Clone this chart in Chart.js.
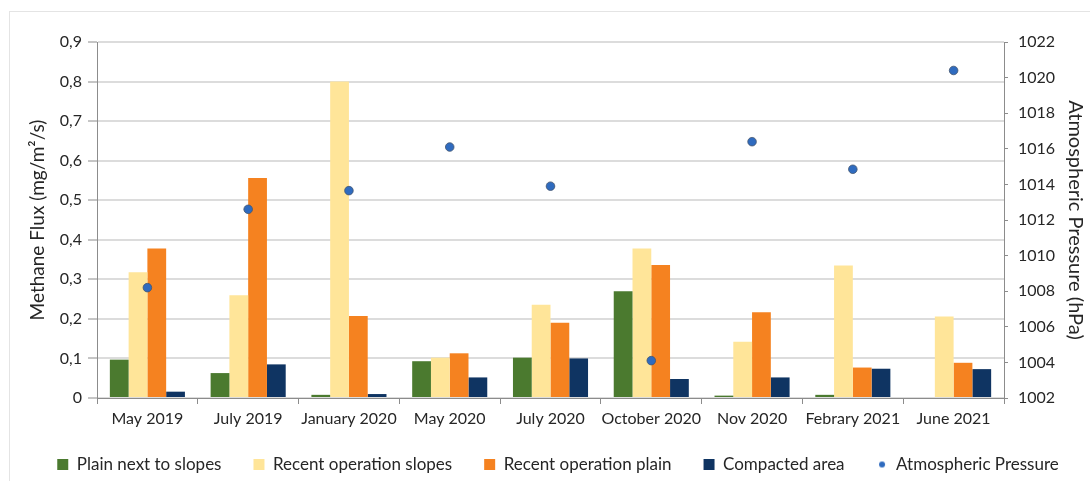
<!DOCTYPE html>
<html>
<head>
<meta charset="utf-8">
<script src="https://cdn.jsdelivr.net/npm/chart.js@4.4.1/dist/chart.umd.min.js"></script>
<style>
  html, body { margin: 0; padding: 0; background: #ffffff; }
  #wrap { position: relative; width: 1090px; height: 481px; overflow: hidden; }
  #frame { position: absolute; left: 9px; top: 11px; width: 2000px; height: 2000px;
           border-left: 1px solid #e4e4e4; border-top: 1px solid #e4e4e4; }
  canvas { position: absolute; left: 0; top: 0; }
</style>
</head>
<body>
<div id="wrap">
  <div id="frame"></div>
  <canvas id="c" width="1090" height="481"></canvas>
</div>
<script>
const categories = ['May 2019', 'July 2019', 'January 2020', 'May 2020', 'July 2020',
                    'October 2020', 'Nov 2020', 'Febrary 2021', 'June 2021'];
const plainNextToSlopes      = [0.097, 0.063, 0.008, 0.093, 0.102, 0.270, 0.006, 0.008, null];
const recentOperationSlopes  = [0.318, 0.260, 0.800, 0.102, 0.236, 0.378, 0.142, 0.335, 0.206];
const recentOperationPlain   = [0.378, 0.556, 0.207, 0.113, 0.190, 0.336, 0.217, 0.077, 0.089];
const compactedArea          = [0.016, 0.085, 0.010, 0.052, 0.100, 0.048, 0.052, 0.074, 0.073];
const atmosphericPressure    = [1008.2, 1012.6, 1013.65, 1016.1, 1013.9, 1004.1, 1016.4, 1014.85, 1020.4];
const seriesNames = ['Plain next to slopes', 'Recent operation slopes', 'Recent operation plain',
                     'Compacted area', 'Atmospheric Pressure'];
const fluxTicks = [0, 0.1, 0.2, 0.3, 0.4, 0.5, 0.6, 0.7, 0.8, 0.9];
const pressureTicks = [1002, 1004, 1006, 1008, 1010, 1012, 1014, 1016, 1018, 1020, 1022];

const FONT = 'Lato, "Open Sans", "DejaVu Sans", sans-serif';
const TXT = '#262626';
const AXIS = '#8c8c8c';

// small circle image for the pressure legend marker
const dot = document.createElement('canvas');
dot.width = 8; dot.height = 8;
(function(){ const g = dot.getContext('2d'); g.fillStyle = '#2f6bbf'; g.beginPath(); g.arc(4,4,3,0,Math.PI*2); g.fill(); })();

const barCommon = { categoryPercentage: 0.745, barPercentage: 1.0, order: 1, yAxisID: 'y', borderWidth: 0 };

const layoutTweak = {
  id: 'layoutTweak',
  afterLayout(chart) {
    const lg = chart.legend;
    if (lg) { lg.left += 13; lg.right += 13; lg.top += 2; lg.bottom += 2; }
    const x = chart.scales.x;
    if (x) { x.bottom += 16; }   // let the category labels draw below the box without clipping
  }
};

new Chart(document.getElementById('c'), {
  type: 'bar',
  plugins: [layoutTweak],
  data: {
    labels: categories,
    datasets: [
      Object.assign({ label: seriesNames[0], data: plainNextToSlopes, backgroundColor: '#4b7a2f' }, barCommon),
      Object.assign({ label: seriesNames[1], data: recentOperationSlopes, backgroundColor: '#ffe599' }, barCommon),
      Object.assign({ label: seriesNames[2], data: recentOperationPlain, backgroundColor: '#f58220' }, barCommon),
      Object.assign({ label: seriesNames[3], data: compactedArea, backgroundColor: '#0f3462' }, barCommon),
      { type: 'line', label: seriesNames[4], data: atmosphericPressure, yAxisID: 'y1', order: 0,
        showLine: false, pointRadius: 4.3, pointHoverRadius: 4.3,
        pointBackgroundColor: '#2f6bbf', pointBorderColor: '#44556e', pointBorderWidth: 0.8,
        backgroundColor: '#2f6bbf', borderColor: '#2f6bbf' }
    ]
  },
  options: {
    responsive: false,
    animation: false,
    devicePixelRatio: 1,
    layout: { padding: { top: 42, left: 0, right: 0, bottom: 0 } },
    plugins: {
      tooltip: { enabled: false },
      legend: {
        position: 'bottom',
        labels: {
          font: { family: FONT, size: 17 },
          color: TXT,
          boxWidth: 11, boxHeight: 11,
          padding: 32,
          usePointStyle: true,
          sort: (a, b) => a.datasetIndex - b.datasetIndex,
          generateLabels: (chart) => {
            const items = Chart.defaults.plugins.legend.labels.generateLabels(chart);
            items.forEach(it => {
              if (it.datasetIndex === 4) { it.pointStyle = dot; }
              else { it.pointStyle = 'rect'; it.lineWidth = 0; it.strokeStyle = 'rgba(0,0,0,0)'; }
            });
            return items;
          }
        }
      }
    },
    scales: {
      x: {
        grid: { offset: true, drawOnChartArea: false, drawTicks: true, tickLength: 6, color: AXIS, tickColor: AXIS },
        border: { color: AXIS, width: 1 },
        ticks: { font: { family: FONT, size: 16 }, color: TXT, padding: 5, maxRotation: 0, autoSkip: false },
        afterFit: (s) => { s.height = 24; }
      },
      y: {
        position: 'left',
        min: 0, max: 0.9,
        afterBuildTicks: (s) => { s.ticks = fluxTicks.map(v => ({ value: v })); },
        ticks: {
          font: { family: FONT, size: 16 }, color: TXT, padding: 6,
          callback: (v) => v === 0 ? '0' : v.toFixed(1).replace('.', ',')
        },
        grid: { color: '#dcdcdc', lineWidth: 2, tickLength: 9, tickColor: AXIS, tickWidth: 1 },
        border: { color: AXIS, width: 1 },
        title: { display: true, text: 'Methane Flux (mg/m²/s)', font: { family: FONT, size: 19 }, color: TXT,
                 padding: { top: 26, bottom: 0 } },
        afterFit: (s) => { s.width = 97; }
      },
      y1: {
        position: 'right',
        min: 1002, max: 1022,
        afterBuildTicks: (s) => { s.ticks = pressureTicks.map(v => ({ value: v })); },
        ticks: { font: { family: FONT, size: 16 }, color: TXT, padding: 10, callback: (v) => String(v) },
        grid: { drawOnChartArea: false, tickLength: 4, color: AXIS, tickColor: AXIS },
        border: { color: AXIS, width: 1 },
        title: { display: true, text: 'Atmospheric Pressure (hPa)', font: { family: FONT, size: 20 }, color: TXT,
                 padding: { top: 3, bottom: 0 } },
        afterFit: (s) => { s.width = 86; }
      }
    }
  }
});
</script>
</body>
</html>
